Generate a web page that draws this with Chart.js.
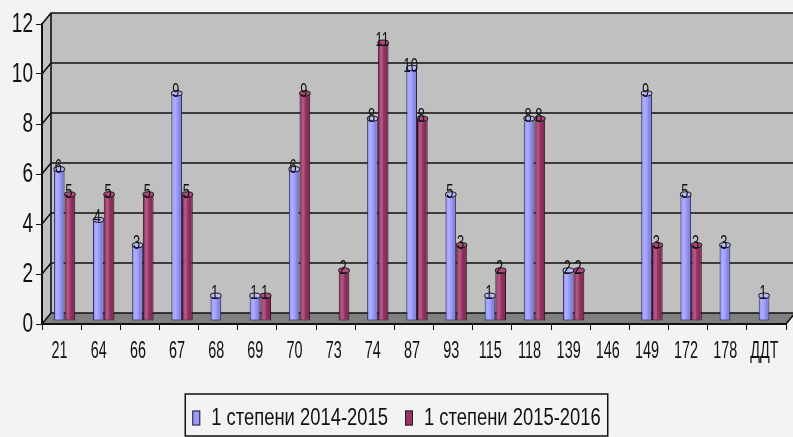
<!DOCTYPE html>
<html>
<head>
<meta charset="utf-8">
<script src="https://cdn.jsdelivr.net/npm/chart.js@4.4.1/dist/chart.umd.min.js"></script>
<style>
  html, body { margin: 0; padding: 0; background: #f3f3f3; }
  #wrap { width: 793px; height: 437px; }
</style>
</head>
<body>
<div id="wrap"><canvas id="chart"></canvas></div>
<script>
var categories = ['21', '64', '66', '67', '68', '69', '70', '73', '74', '87', '93', '115', '118', '139', '146', '149', '172', '178', 'ДДТ'];
var series2014 = [6, 4, 3, 9, 1, 1, 6, 0, 8, 10, 5, 1, 8, 2, 0, 9, 5, 3, 1];
var series2015 = [5, 5, 5, 5, 0, 1, 9, 2, 11, 8, 3, 2, 8, 2, 0, 3, 3, 0, 0];
var seriesNames = ['1 степени 2014-2015', '1 степени 2015-2016'];
var seriesColors = ['#9999ff', '#993366'];
var capColors = ['#b8b8ff', '#b04a7e'];
var yMax = 12, yStep = 2;

var FONT = "'Liberation Sans', Arial, sans-serif";
var DX = 9, DY = 11;           // depth of the 3d box
var SHIFT_X = 3, SHIFT_Y = -3; // bars stand a bit inside the box
var BAR_STRETCH = 1.012;

// narrow text: regular face squeezed horizontally
function narrowText(ctx, txt, x, y, size, sx, align) {
  ctx.save();
  ctx.translate(x, y);
  ctx.scale(sx, 1);
  ctx.font = size + 'px ' + FONT;
  ctx.textAlign = align;
  ctx.textBaseline = 'middle';
  ctx.fillStyle = '#111';
  ctx.fillText(txt, 0, 0);
  ctx.restore();
}

var box3d = {
  id: 'box3d',
  beforeDraw: function(chart) {
    var ctx = chart.ctx, a = chart.chartArea, y = chart.scales.y;
    ctx.save();
    ctx.fillStyle = '#f3f3f3';
    ctx.fillRect(0, 0, chart.width, chart.height);

    // walls
    ctx.fillStyle = '#c0c0c0';
    ctx.beginPath();
    ctx.moveTo(a.left, a.top);
    ctx.lineTo(a.left + DX, a.top - DY);
    ctx.lineTo(chart.width, a.top - DY);
    ctx.lineTo(chart.width, a.bottom - DY);
    ctx.lineTo(a.left, a.bottom);
    ctx.closePath();
    ctx.fill();

    // floor
    ctx.fillStyle = '#808080';
    ctx.beginPath();
    ctx.moveTo(a.left, a.bottom);
    ctx.lineTo(a.right, a.bottom);
    ctx.lineTo(a.right + DX, a.bottom - DY);
    ctx.lineTo(a.left + DX, a.bottom - DY);
    ctx.closePath();
    ctx.fill();

    // gridlines on side and back wall
    ctx.strokeStyle = '#111';
    ctx.lineWidth = 1.6;
    for (var v = 0; v <= yMax; v += yStep) {
      var py = y.getPixelForValue(v);
      ctx.beginPath();
      ctx.moveTo(a.left, py);
      ctx.lineTo(a.left + DX, py - DY);
      ctx.lineTo(chart.width, py - DY);
      ctx.stroke();
    }
    ctx.beginPath();
    ctx.moveTo(a.left + DX, a.top - DY);
    ctx.lineTo(a.left + DX, a.bottom - DY);
    ctx.stroke();
    ctx.beginPath();
    ctx.moveTo(a.right, a.bottom);
    ctx.lineTo(a.right + DX, a.bottom - DY);
    ctx.stroke();
    ctx.restore();
  },
  beforeDatasetsDraw: function(chart) {
    var ctx = chart.ctx, base = chart.chartArea.bottom;
    ctx.save();
    ctx.translate(SHIFT_X, SHIFT_Y + base);
    ctx.scale(1, BAR_STRETCH);
    ctx.translate(0, -base);
  },
  afterDatasetsDraw: function(chart) {
    var ctx = chart.ctx;
    chart.data.datasets.forEach(function(ds, di) {
      var meta = chart.getDatasetMeta(di);
      meta.data.forEach(function(el, i) {
        var val = ds.data[i];
        if (!val) return;
        var p = el.getProps(['x', 'y', 'base', 'width'], true);
        var l = p.x - p.width / 2;
        // cylinder shading
        ctx.fillStyle = 'rgba(255,255,255,0.18)';
        ctx.fillRect(l + 2, p.y, p.width * 0.28, p.base - p.y - 1);
        ctx.fillStyle = 'rgba(0,0,0,0.12)';
        ctx.fillRect(p.x + p.width * 0.15, p.y, p.width * 0.3, p.base - p.y - 1);
        // top cap
        ctx.beginPath();
        ctx.ellipse(p.x, p.y, p.width / 2, 2.6, 0, 0, Math.PI * 2);
        ctx.fillStyle = capColors[di];
        ctx.fill();
        ctx.strokeStyle = '#222';
        ctx.lineWidth = 1;
        ctx.stroke();
        narrowText(ctx, String(val), p.x - 1, p.y - 2, 20, 0.64, 'center');
      });
    });
    ctx.restore();
  },
  afterDraw: function(chart) {
    var ctx = chart.ctx, a = chart.chartArea, xs = chart.scales.x, ys = chart.scales.y;

    // axis labels
    categories.forEach(function(c, i) {
      narrowText(ctx, c, xs.getPixelForTick(i) - 2, a.bottom + 27, 24, 0.6, 'center');
    });
    ys.ticks.forEach(function(t) {
      narrowText(ctx, String(t.value), a.left - 9, ys.getPixelForValue(t.value), 28, 0.68, 'right');
    });

    // legend with a frame
    ctx.save();
    var size = 23, sx = 0.8;
    ctx.font = size + 'px ' + FONT;
    var boxW = 8, boxH = 15, gap = 11, itemGap = 17;
    var widths = seriesNames.map(function(s) { return ctx.measureText(s).width * sx; });
    var total = 0;
    widths.forEach(function(w, i) { total += boxW + gap + w + (i ? itemGap : 0); });
    var x = (chart.width - total) / 2;
    var cy = chart.height - 19;
    ctx.strokeStyle = '#111';
    ctx.lineWidth = 1.5;
    ctx.strokeRect(x - 7, cy - 24, total + 14, 42);
    seriesNames.forEach(function(s, i) {
      ctx.fillStyle = seriesColors[i];
      ctx.fillRect(x, cy - boxH / 2, boxW, boxH);
      ctx.strokeStyle = '#222';
      ctx.lineWidth = 1;
      ctx.strokeRect(x + 0.5, cy - boxH / 2 + 0.5, boxW - 1, boxH - 1);
      narrowText(ctx, s, x + boxW + gap, cy + 1, size, sx, 'left');
      x += boxW + gap + widths[i] + itemGap;
    });
    ctx.restore();
  }
};

new Chart(document.getElementById('chart'), {
  type: 'bar',
  data: {
    labels: categories,
    datasets: [
      { label: seriesNames[0], data: series2014, backgroundColor: seriesColors[0], borderColor: '#2a2a55', borderWidth: 1, borderSkipped: false },
      { label: seriesNames[1], data: series2015, backgroundColor: seriesColors[1], borderColor: '#3a1024', borderWidth: 1, borderSkipped: false }
    ]
  },
  options: {
    responsive: true,
    maintainAspectRatio: false,
    animation: false,
    layout: { padding: { top: 24, right: 7, bottom: 0, left: 0 } },
    datasets: { bar: { categoryPercentage: 0.546, barPercentage: 1 } },
    plugins: { legend: { display: false }, tooltip: { enabled: false } },
    scales: {
      x: {
        grid: { drawOnChartArea: false, drawTicks: true, tickLength: 6, color: '#111', offset: true },
        border: { display: true, color: '#111', width: 2 },
        ticks: { display: false, autoSkip: false },
        afterFit: function(s) { s.height = 113; }
      },
      y: {
        min: 0, max: yMax,
        grid: { drawOnChartArea: false, drawTicks: true, tickLength: 6, color: '#111' },
        border: { display: true, color: '#111', width: 2 },
        ticks: { stepSize: yStep, display: false },
        afterFit: function(s) { s.width = 42; }
      }
    }
  },
  plugins: [box3d]
});
</script>
</body>
</html>
